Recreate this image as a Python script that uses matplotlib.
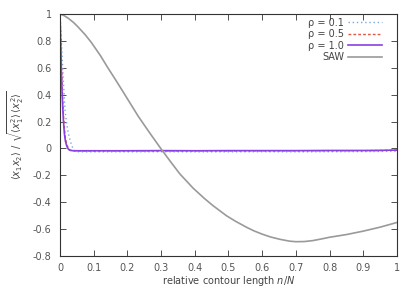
import numpy as np
import matplotlib
matplotlib.use("Agg")
import matplotlib.pyplot as plt

plt.rcParams['font.family'] = ['DejaVu Sans']
plt.rcParams['mathtext.fontset'] = 'dejavusans'

# SAW curve
saw_x = [0, 0.012, 0.025, 0.04, 0.053, 0.075, 0.093, 0.12, 0.142, 0.165, 0.19, 0.232, 0.265, 0.299,
         0.33, 0.356, 0.395, 0.43, 0.454, 0.494, 0.52, 0.553, 0.575, 0.6, 0.625, 0.652, 0.681, 0.70,
         0.725, 0.75, 0.775, 0.80, 0.85, 0.899, 0.95, 1.0]
saw_y = [1.0, 0.988, 0.967, 0.937, 0.905, 0.845, 0.788, 0.69, 0.60, 0.51, 0.41, 0.24, 0.12, 0.0,
         -0.105, -0.19, -0.295, -0.375, -0.425, -0.50, -0.54, -0.585, -0.612, -0.637, -0.658, -0.675,
         -0.689, -0.693, -0.692, -0.685, -0.673, -0.66, -0.64, -0.615, -0.585, -0.55]

# polymer curves (fast decay then flat)
tail_x = [0.06, 0.1, 0.2, 0.3, 0.4, 0.5, 0.6, 0.7, 0.8, 0.9, 0.95, 1.0]

r01_x = [0, 0.003, 0.006, 0.01, 0.015, 0.02, 0.025, 0.03, 0.035, 0.04, 0.045, 0.05] + tail_x
r01_y = [1.0, 0.86, 0.70, 0.50, 0.28, 0.18, 0.11, 0.06, 0.02, -0.008, -0.02, -0.024,
         -0.025, -0.025, -0.025, -0.024, -0.025, -0.025, -0.024, -0.025, -0.024, -0.023, -0.022, -0.02]

r05_x = [0, 0.002, 0.004, 0.006, 0.008, 0.01, 0.013, 0.016, 0.02, 0.025, 0.03, 0.04] + tail_x
r05_y = [1.0, 0.82, 0.64, 0.49, 0.36, 0.26, 0.15, 0.08, 0.03, 0.0, -0.012, -0.017,
         -0.018, -0.018, -0.017, -0.018, -0.017, -0.018, -0.017, -0.017, -0.016, -0.016, -0.015, -0.012]

r10_x = [0, 0.002, 0.004, 0.006, 0.008, 0.01, 0.013, 0.016, 0.02, 0.025, 0.03, 0.04] + tail_x
r10_y = [1.0, 0.78, 0.58, 0.43, 0.31, 0.21, 0.11, 0.055, 0.018, -0.006, -0.014, -0.017,
         -0.017, -0.017, -0.017, -0.016, -0.017, -0.016, -0.016, -0.016, -0.015, -0.015, -0.014, -0.012]

fig = plt.figure(figsize=(4.15, 2.91), dpi=100)
ax = fig.add_axes([0.1446, 0.120, 0.812, 0.832])

ax.plot(r01_x, r01_y, color='#7fa6dc', lw=1.0, ls=(0, (1, 2)), label='ρ = 0.1')
ax.plot(r05_x, r05_y, color='#e05a4a', lw=1.0, ls=(0, (2, 1.5)), label='ρ = 0.5')
ax.plot(r10_x, r10_y, color='#8a3fe0', lw=1.2, label='ρ = 1.0')
ax.plot(saw_x, saw_y, color='#9a9a9a', lw=1.2, label='SAW')

ax.set_xlim(0, 1)
ax.set_ylim(-0.8, 1)
ax.set_xticks(np.arange(0, 1.01, 0.1))
ax.set_xticklabels(['0', '0.1', '0.2', '0.3', '0.4', '0.5', '0.6', '0.7', '0.8', '0.9', '1'])
ax.set_yticks(np.arange(-0.8, 1.01, 0.2))
ax.set_yticklabels(['-0.8', '-0.6', '-0.4', '-0.2', '0', '0.2', '0.4', '0.6', '0.8', '1'])
ax.tick_params(direction='in', top=True, right=True, length=4, width=0.6,
               labelsize=7, colors='#333333', labelcolor='#555555')
ax.tick_params(axis='y', pad=6)
ax.tick_params(axis='x', pad=5)
for s in ax.spines.values():
    s.set_color('#333333')
    s.set_linewidth(0.8)

ax.set_xlabel(r'relative contour length $n/N$', fontsize=7, color='#444444', labelpad=1)
ax.set_ylabel(r'$\langle x_1 x_2\rangle\ /\ \sqrt{\langle x_1^2\rangle\,\langle x_2^2\rangle}$',
              fontsize=7, color='#444444', labelpad=5)

leg = ax.legend(loc='upper right', bbox_to_anchor=(0.967, 1.0), frameon=False, fontsize=7,
                markerfirst=False, handlelength=3.5, handletextpad=0.4, labelspacing=0.15,
                borderaxespad=0.0)
for t in leg.get_texts():
    t.set_color('#444444')
    t.set_ha('right')

fig.savefig('out.png', dpi=100)
